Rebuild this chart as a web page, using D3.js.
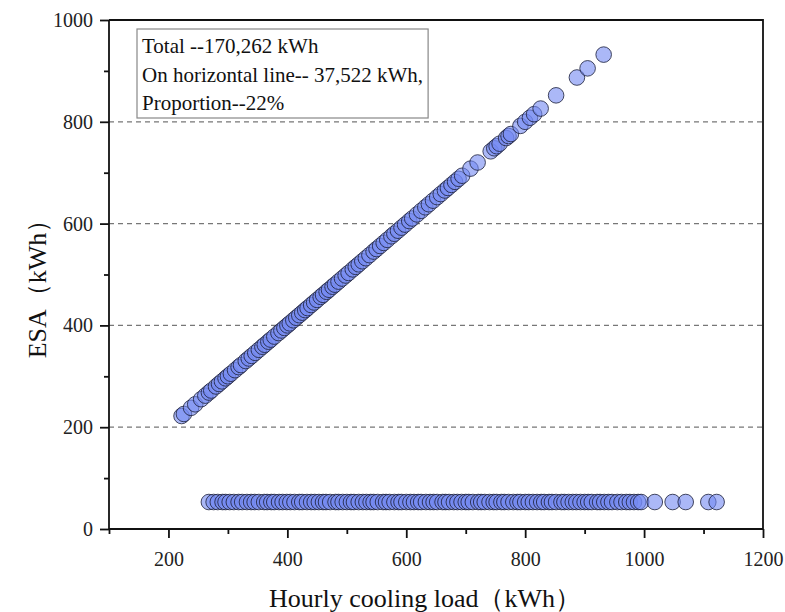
<!DOCTYPE html>
<html>
<head>
<meta charset="utf-8">
<script src="https://cdn.jsdelivr.net/npm/d3@7"></script>
<style>
  body { margin: 0; background: #fff; }
</style>
</head>
<body>
<svg id="chart" width="785" height="612"></svg>
<script>
// Points where ESA follows the load (on the diagonal)
const diagonalLoad = [222, 226, 238, 245, 255, 262, 268, 272, 280, 285, 290, 296, 300, 305, 312, 318, 322, 330, 335, 340,
    346, 352, 358, 362, 368, 372, 378, 385, 390, 395, 400, 404, 410, 415, 420, 425, 430, 434, 440, 445,
    450, 456, 460, 466, 470, 476, 480, 486, 492, 498, 503, 510, 515, 520, 526, 532, 538, 545, 550, 556,
    562, 568, 575, 580, 586, 592, 598, 605, 610, 618, 625, 632, 638, 645, 652, 658, 665, 670, 676, 682,
    688, 694, 708, 720, 742, 748, 752, 757, 768, 772, 776, 792, 800, 808, 815, 826, 852, 887, 905, 932];

// Points on the horizontal line
const flatLoad = [268, 276, 283, 291, 296, 303, 310, 318, 324, 332, 339, 345, 352, 361, 366, 373, 378, 386, 392, 399,
    405, 412, 420, 425, 433, 440, 446, 453, 460, 465, 472, 481, 486, 493, 500, 507, 512, 520, 527, 533,
    540, 545, 552, 561, 566, 572, 580, 587, 592, 600, 607, 613, 620, 625, 633, 640, 646, 652, 661, 666,
    672, 680, 686, 693, 700, 705, 712, 721, 726, 732, 740, 747, 752, 760, 765, 772, 780, 787, 792, 800,
    806, 813, 820, 827, 832, 840, 845, 852, 861, 866, 873, 880, 886, 893, 900, 906, 912, 921, 926, 933,
    940, 946, 955, 962, 970, 976, 983, 990, 995, 1018, 1048, 1070, 1108, 1122];
const flatESA = 53;

const xTicks = [200, 400, 600, 800, 1000, 1200];
const yTicks = [0, 200, 400, 600, 800, 1000];
const gridValues = [200, 400, 600, 800];
const noteLines = ["Total --170,262 kWh", "On horizontal line-- 37,522 kWh,", "Proportion--22%"];

const serif = '"Liberation Serif", "Times New Roman", Times, "DejaVu Serif", serif';

const svg = d3.select('#chart');
const plotLeft = 109, plotRight = 763, plotTop = 20, plotBottom = 529;

const x = d3.scaleLinear().domain([100, 1200]).range([plotLeft, plotRight]);
const y = d3.scaleLinear().domain([0, 1000]).range([plotBottom, plotTop]);

// Dashed gridlines
svg.append('g')
    .selectAll('line')
    .data(gridValues)
    .join('line')
    .attr('x1', plotLeft)
    .attr('x2', plotRight)
    .attr('y1', d => y(d))
    .attr('y2', d => y(d))
    .attr('stroke', '#777')
    .attr('stroke-width', 1.2)
    .attr('stroke-dasharray', '5,4');

// Frame (top and right)
svg.append('path')
    .attr('d', `M${plotLeft},${plotTop}H${plotRight}V${plotBottom}`)
    .attr('fill', 'none')
    .attr('stroke', '#111')
    .attr('stroke-width', 1.8);

// Points
const points = diagonalLoad.map(v => ({ load: v, esa: v }))
    .concat(flatLoad.map(v => ({ load: v, esa: flatESA })));

svg.append('g')
    .selectAll('circle')
    .data(points)
    .join('circle')
    .attr('cx', d => x(d.load))
    .attr('cy', d => y(d.esa))
    .attr('r', 7.8)
    .attr('fill', '#7389f2')
    .attr('fill-opacity', 0.6)
    .attr('stroke', '#1c1f3a')
    .attr('stroke-opacity', 0.8)
    .attr('stroke-width', 1);

// Axes
const xAxis = svg.append('g')
    .attr('transform', `translate(0,${plotBottom})`)
    .call(d3.axisBottom(x).tickValues(xTicks).tickSize(9).tickPadding(14).tickFormat(d3.format('d')));
xAxis.append('g')
    .call(d3.axisBottom(x).tickValues([100, 300, 500, 700, 900, 1100]).tickSize(5).tickFormat(''))
    .select('.domain').remove();

const yAxis = svg.append('g')
    .attr('transform', `translate(${plotLeft},0)`)
    .call(d3.axisLeft(y).tickValues(yTicks).tickSize(9).tickPadding(7).tickFormat(d3.format('d')));
yAxis.append('g')
    .call(d3.axisLeft(y).tickValues([100, 300, 500, 700, 900]).tickSize(5).tickFormat(''))
    .select('.domain').remove();

svg.selectAll('.domain, .tick line')
    .attr('stroke', '#111')
    .attr('stroke-width', 1.8);
svg.selectAll('.tick text')
    .attr('font-family', null)
    .style('font-family', serif)
    .style('font-size', '20px')
    .style('fill', '#222');
xAxis.selectAll('.domain').attr('d', `M${plotLeft},0H${plotRight}`);
yAxis.selectAll('.domain').attr('d', `M0,${plotTop}V${plotBottom}`);

// Axis titles
svg.append('text')
    .attr('x', 425)
    .attr('y', 607)
    .attr('text-anchor', 'middle')
    .style('font-family', serif)
    .style('font-size', '26px')
    .style('fill', '#111')
    .text('Hourly cooling load（kWh）');

svg.append('text')
    .attr('transform', `translate(46,${(plotTop + plotBottom) / 2 + 8}) rotate(-90)`)
    .attr('text-anchor', 'middle')
    .style('font-family', serif)
    .style('font-size', '26px')
    .style('fill', '#111')
    .text('ESA（kWh）');

// Note box
const note = svg.append('g');
const noteRect = note.append('rect')
    .attr('x', 137)
    .attr('y', 29)
    .attr('height', 89)
    .attr('fill', '#fff')
    .attr('stroke', '#888')
    .attr('stroke-width', 1.2);
const noteText = note.append('g');
noteLines.forEach((t, i) => {
    noteText.append('text')
        .attr('x', 142)
        .attr('y', 53 + i * 28.5)
        .style('font-family', serif)
        .style('font-size', '21px')
        .style('fill', '#111')
        .text(t);
});
noteRect.attr('width', noteText.node().getBBox().width + 10);
</script>
</body>
</html>
